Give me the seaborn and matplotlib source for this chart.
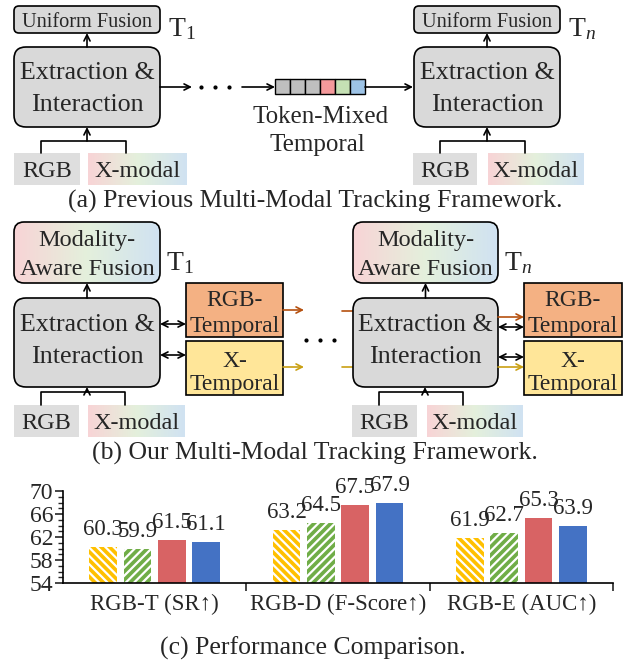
import matplotlib
matplotlib.use("Agg")
import matplotlib.pyplot as plt
import numpy as np
import pandas as pd
import seaborn as sns
from matplotlib.patches import FancyBboxPatch, Rectangle

tasks = ["RGB-T (SR↑)", "RGB-D (F-Score↑)", "RGB-E (AUC↑)"]
methods = ["Method A", "Method B", "Method C", "Ours"]
method_a = [60.3, 63.2, 61.9]
method_b = [59.9, 64.5, 62.7]
method_c = [61.5, 67.5, 65.3]
ours = [61.1, 67.9, 63.9]
bar_colors = ["#ffc000", "#70ad47", "#d86364", "#4472c4"]
token_colors = ["#bfbfbf", "#bfbfbf", "#bfbfbf", "#f4999b", "#c5e0b4", "#9dc3e6"]

sns.set_style("white")
plt.rcParams["font.family"] = ["Liberation Serif", "DejaVu Serif"]
plt.rcParams["mathtext.fontset"] = "custom"
plt.rcParams["mathtext.rm"] = "Liberation Serif"
plt.rcParams["mathtext.it"] = "Liberation Serif:italic"
plt.rcParams["hatch.linewidth"] = 1.6

fig = plt.figure(figsize=(6.27, 6.62), dpi=100)
ax = fig.add_axes([0, 0, 1, 1])
ax.set_xlim(0, 627)
ax.set_ylim(662, 0)
ax.axis("off")

LW = 1.2
GRAY = "#d9d9d9"
LIGHT = "#dedede"
grad = np.array([[248, 212, 214], [228, 240, 220], [208, 226, 242]]) / 255.0
grad_img = np.stack([np.interp(np.linspace(0, 2, 200), [0, 1, 2], grad[:, k]) for k in range(3)], axis=-1)[None]


def box(x0, y0, x1, y1, fc, r=0, ec="black", lw=LW, gradient=False):
    style = f"round,pad=0,rounding_size={r}" if r else "square,pad=0"
    p = FancyBboxPatch((x0, y0), x1 - x0, y1 - y0, boxstyle=style,
                       fc="none" if gradient else fc, ec=ec, lw=lw, zorder=3)
    ax.add_patch(p)
    if gradient:
        im = ax.imshow(grad_img, extent=(x0, x1, y1, y0), aspect="auto",
                       interpolation="bilinear", zorder=2)
        im.set_clip_path(p)
    return p


def arrow(x0, y0, x1, y1, style="->", color="black"):
    ax.annotate("", xy=(x1, y1), xytext=(x0, y0),
                arrowprops=dict(arrowstyle=style, lw=LW, color=color,
                                shrinkA=0, shrinkB=0, mutation_scale=11), zorder=4)


def txt(x, y, s, size=18, **kw):
    ax.text(x, y, s, fontsize=size, ha="center", va="baseline", zorder=5, **kw)


def inputs(x_rgb0, x_rgb1, x_x0, x_x1, y0, y1, bl, br, by, ax_x, top):
    box(x_rgb0, y0, x_rgb1, y1, LIGHT, ec="none")
    box(x_x0, y0, x_x1, y1, None, ec="none", gradient=True)
    txt((x_rgb0 + x_rgb1) / 2, y1 - 8, "RGB", 17.5)
    txt((x_x0 + x_x1) / 2, y1 - 8, "X-modal", 17.5)
    ax.plot([bl, bl, br, br], [y0, by, by, y0], color="black", lw=LW, zorder=4)
    arrow(ax_x, by, ax_x, top)


def extraction(x0, y0, x1, y1, b1, b2):
    box(x0, y0, x1, y1, GRAY, r=12)
    cx = (x0 + x1) / 2
    txt(cx, b1, "Extraction &", 18.7)
    txt(cx, b2, "Interaction", 18.7)


# ---------------- (a) previous framework ----------------
for x0, x1, tlabel in [(14, 160, "T$_1$"), (414, 560, "T$_n$")]:
    box(x0, 6, x1, 33, GRAY, r=5)
    ax.text((x0 + x1) / 2, 27, "Uniform Fusion", fontsize=14.6, ha="center",
            va="baseline", zorder=5)
    ax.text(x1 + 8, 36, tlabel, fontsize=20, ha="left", va="baseline", zorder=5)
    extraction(x0, 47, x1, 127, 79, 111)
    arrow((x0 + x1) / 2, 47, (x0 + x1) / 2, 33)

inputs(14, 80, 88, 187, 153, 185, 41, 126, 141, 87, 127)
inputs(413, 477, 488, 584, 153, 185, 440, 525, 141, 487, 127)

arrow(160, 87, 192, 87)
ax.plot([201, 215, 229], [87, 87, 87], "o", ms=2, color="black")
arrow(242, 87, 275, 87)
for i, c in enumerate(token_colors):
    ax.add_patch(Rectangle((275 + 15 * i, 79), 15, 15, fc=c, ec="black", lw=1.0, zorder=3))
arrow(365, 87, 413, 87)
txt(321, 123, "Token-Mixed", 18)
txt(317, 151, "Temporal", 18)
txt(315, 208, "(a) Previous Multi-Modal Tracking Framework.", 18.5)

# ---------------- (b) our framework ----------------
BROWN = "#b5500f"
GOLD = "#c9a013"
for x0, x1, tlabel in [(14, 160, "T$_1$"), (353, 498, "T$_n$")]:
    box(x0, 222, x1, 283, None, r=10, gradient=True)
    txt((x0 + x1) / 2, 246, "Modality-", 17.5)
    txt((x0 + x1) / 2, 275, "Aware Fusion", 17.5)
    ax.text(x1 + 6, 270, tlabel, fontsize=20, ha="left", va="baseline", zorder=5)
    extraction(x0, 298, x1, 387, 331, 363)
    arrow((x0 + x1) / 2, 298, (x0 + x1) / 2, 283)

for bx0, bx1 in [(186, 283), (524, 622)]:
    box(bx0, 283, bx1, 337, "#f4b183")
    txt((bx0 + bx1) / 2, 306, "RGB-", 17)
    txt((bx0 + bx1) / 2, 332, "Temporal", 17)
    box(bx0, 341, bx1, 395, "#ffe699")
    txt((bx0 + bx1) / 2, 367, "X-", 17)
    txt((bx0 + bx1) / 2, 390, "Temporal", 17)

arrow(160, 324, 186, 324, "<->")
arrow(160, 355, 186, 355, "<->")
arrow(283, 310, 304, 310, color=BROWN)
arrow(283, 367, 304, 367, color=GOLD)
ax.plot([306, 320, 334], [340, 340, 340], "o", ms=2, color="black")
ax.plot([342, 353], [311, 311], color=BROWN, lw=LW)
ax.plot([342, 353], [367, 367], color=GOLD, lw=LW)
arrow(498, 317, 524, 317, color=BROWN)
arrow(498, 327, 524, 327, "<->")
arrow(498, 357, 524, 357, "<->")
arrow(498, 367, 524, 367, color=GOLD)

inputs(14, 79, 88, 185, 405, 437, 41, 125, 392, 87, 387)
inputs(352, 417, 427, 523, 405, 437, 379, 463, 392, 425, 387)
txt(315, 460, "(b) Our Multi-Modal Tracking Framework.", 18.5)

# ---------------- (c) bar chart ----------------
df = pd.DataFrame({
    "task": tasks * 4,
    "method": [m for m in methods for _ in tasks],
    "score": method_a + method_b + method_c + ours,
})
bx = fig.add_axes([63 / 627, (662 - 583) / 662, 550 / 627, 92 / 662])
bx.patch.set_alpha(0)
sns.barplot(data=df, x="task", y="score", hue="method", palette=bar_colors,
            width=0.75, gap=0.2, saturation=1, legend=False, ax=bx)
hatches = ["\\\\\\\\", "////", None, None]
for cont, h, c in zip(bx.containers, hatches, bar_colors):
    for p in cont:
        p.set_linewidth(0)
        if h:
            p.set_facecolor(c)
            p.set_edgecolor("white")
            p.set_hatch(h)
    bx.bar_label(cont, fmt="%.1f", padding=5, fontsize=16.5)

bx.set_ylim(54, 70)
bx.set_xlim(-0.5, 2.5)
bx.set_yticks([54, 58, 62, 66, 70])
bx.set_yticks(np.arange(54, 71, 1), minor=True)
bx.set_xticks([0.5, 1.5, 2.5], minor=True)
bx.tick_params(axis="y", which="major", direction="out", length=6, width=1.2,
               labelsize=17, pad=1, left=True)
bx.tick_params(axis="y", which="minor", direction="out", length=3.5, width=1, left=True)
bx.tick_params(axis="x", which="major", length=0, labelsize=16.5, pad=8)
bx.tick_params(axis="x", which="minor", direction="out", length=6, width=1.2, bottom=True)
bx.set_xlabel("")
bx.set_ylabel("")
for s in ["top", "right"]:
    bx.spines[s].set_visible(False)
for s in ["left", "bottom"]:
    bx.spines[s].set_linewidth(1.2)
    bx.spines[s].set_color("black")

txt(313, 655, "(c) Performance Comparison.", 18.5)

fig.savefig("out.png", dpi=100)
